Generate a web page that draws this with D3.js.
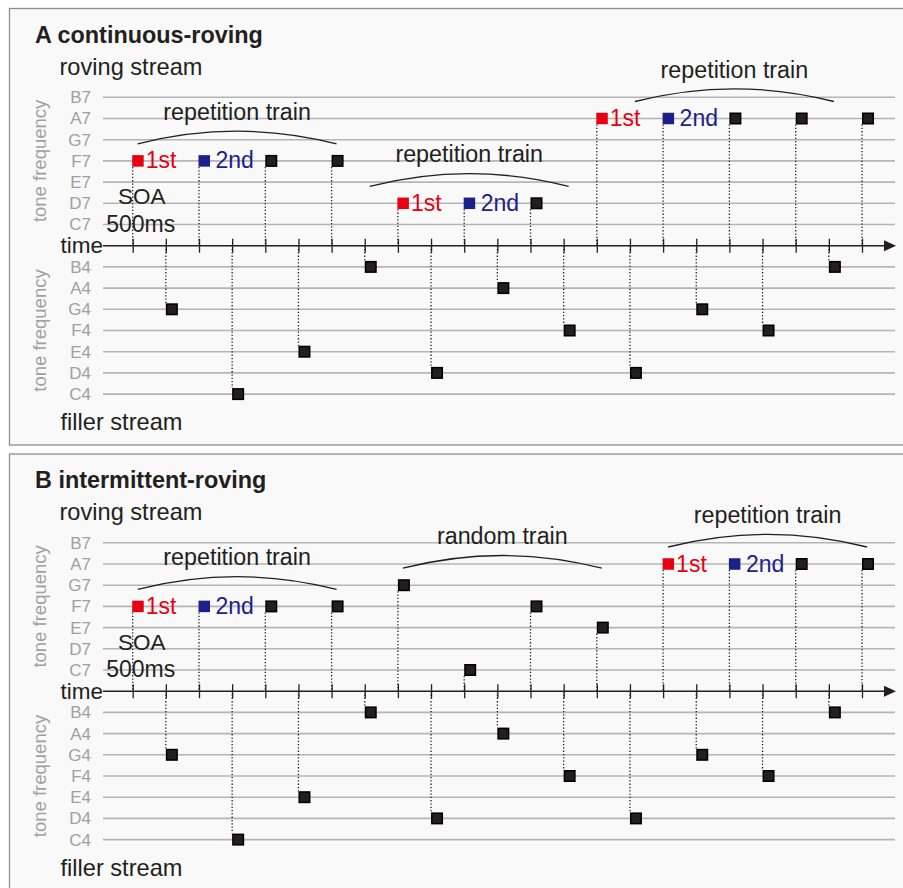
<!DOCTYPE html>
<html>
    <head>
        <meta charset="utf-8">
        <script src="https://cdnjs.cloudflare.com/ajax/libs/d3/7.8.5/d3.min.js"></script>
        <style>
            body {
                margin:0;
                background:#ffffff;
            }
            svg text {
                font-family:"Liberation Sans", Arial, sans-serif;
            }
        </style>
    </head>
    <body>
        <svg id="chart" width="903" height="888"></svg>
        <script>
            // pitch rows, top to bottom
            var rovingNotes = ["B7", "A7", "G7", "F7", "E7", "D7", "C7"];
            var fillerNotes = ["B4", "A4", "G4", "F4", "E4", "D4", "C4"];

            // roving tones sit on even time steps, filler tones on odd steps
            var rovingA = ["F7", "F7", "F7", "F7", "D7", "D7", "D7", "A7", "A7", "A7", "A7", "A7"];
            var roleA   = ["1st", "2nd", "", "", "1st", "2nd", "", "1st", "2nd", "", "", ""];
            var fillerA = ["G4", "C4", "E4", "B4", "D4", "A4", "F4", "D4", "G4", "F4", "B4"];

            var rovingB = ["F7", "F7", "F7", "F7", "G7", "C7", "F7", "E7", "A7", "A7", "A7", "A7"];
            var roleB   = ["1st", "2nd", "", "", "", "", "", "", "1st", "2nd", "", ""];
            var fillerB = ["G4", "C4", "E4", "B4", "D4", "A4", "F4", "D4", "G4", "F4", "B4"];

            var trainsA = [
                {label:"repetition train", from:0, to:6},
                {label:"repetition train", from:8, to:12},
                {label:"repetition train", from:14, to:22}
            ];
            var trainsB = [
                {label:"repetition train", from:0, to:6},
                {label:"random train", from:8, to:14},
                {label:"repetition train", from:16, to:22}
            ];

            var steps = d3.range(23);

            var ink = "#231f20";
            var roleColor = {"1st":"#e60012", "2nd":"#1d2088"};
            var roleDx = {"1st":13, "2nd":16.5};

            var svg = d3.select("#chart");
            var x = d3.scaleLinear().domain([0, 22]).range([132.7, 862]);
            var yR = d3.scalePoint().domain(rovingNotes).range([97.3, 224.5]);
            var yF = d3.scalePoint().domain(fillerNotes).range([266.9, 394.1]);
            var axisY = 245.7;

            function drawPanel(offset, title, roving, role, filler, trains) {
                var g = svg.append("g").attr("transform", "translate(0," + offset + ")");

                g.append("rect")
                    .attr("x", 9.5).attr("y", 8.5)
                    .attr("width", 900).attr("height", 436.5)
                    .attr("fill", "#f9f9f9")
                    .attr("stroke", "#8e8e8e")
                    .attr("stroke-width", 1.3);

                g.append("text").attr("x", 35).attr("y", 42.7)
                    .attr("font-size", 23.4).attr("font-weight", "bold").attr("fill", ink)
                    .text(title);
                g.append("text").attr("x", 59.5).attr("y", 74.5)
                    .attr("font-size", 23.6).attr("fill", ink).text("roving stream");
                g.append("text").attr("x", 60.5).attr("y", 430)
                    .attr("font-size", 23.6).attr("fill", ink).text("filler stream");
                g.append("text").attr("x", 60.5).attr("y", axisY + 7.5)
                    .attr("font-size", 22.5).attr("fill", ink).text("time");

                // grid rows
                [[yR, rovingNotes], [yF, fillerNotes]].forEach(function(p) {
                    var y = p[0];
                    g.append("g").selectAll("line").data(p[1]).enter().append("line")
                        .attr("x1", 103).attr("x2", 895)
                        .attr("y1", function(d){ return y(d); })
                        .attr("y2", function(d){ return y(d); })
                        .attr("stroke", "#b5b5b6").attr("stroke-width", 1.6);

                    var ax = g.append("g").attr("transform", "translate(97,0)")
                        .call(d3.axisLeft(y).tickSize(0).tickPadding(6));
                    ax.select(".domain").remove();
                    ax.selectAll("text")
                        .attr("font-size", 17)
                        .attr("font-family", "Liberation Sans, Arial, sans-serif")
                        .attr("fill", "#a0a0a0");

                    var mid = (y.range()[0] + y.range()[1]) / 2;
                    g.append("text")
                        .attr("transform", "translate(45.5," + mid + ") rotate(-90)")
                        .attr("text-anchor", "middle")
                        .attr("font-size", 18.5).attr("fill", "#a0a0a0")
                        .text("tone frequency");
                });

                // time axis
                var tx = g.append("g").attr("transform", "translate(0," + (axisY - 7) + ")")
                    .call(d3.axisBottom(x).tickValues(steps).tickSize(14).tickFormat(""));
                tx.select(".domain").remove();
                tx.selectAll("line").attr("stroke", ink).attr("stroke-width", 1.3);

                g.append("line").attr("x1", 103).attr("x2", 886)
                    .attr("y1", axisY).attr("y2", axisY)
                    .attr("stroke", ink).attr("stroke-width", 1.5);
                g.append("path")
                    .attr("d", "M884," + (axisY - 5.5) + "L896," + axisY + "L884," + (axisY + 5.5) + "Z")
                    .attr("fill", ink);

                var rTones = roving.map(function(n, i){ return {step:2 * i, note:n, role:role[i]}; });
                var fTones = filler.map(function(n, i){ return {step:2 * i + 1, note:n, role:""}; });

                // dotted drop lines
                g.append("g").selectAll("line").data(rTones).enter().append("line")
                    .attr("x1", function(d){ return x(d.step); })
                    .attr("x2", function(d){ return x(d.step); })
                    .attr("y1", function(d){ return yR(d.note) + 6; })
                    .attr("y2", axisY)
                    .attr("stroke", ink).attr("stroke-width", 1.3)
                    .attr("stroke-dasharray", "1.3,2");
                g.append("g").selectAll("line").data(fTones).enter().append("line")
                    .attr("x1", function(d){ return x(d.step); })
                    .attr("x2", function(d){ return x(d.step); })
                    .attr("y1", axisY)
                    .attr("y2", function(d){ return yF(d.note) - 6; })
                    .attr("stroke", ink).attr("stroke-width", 1.3)
                    .attr("stroke-dasharray", "1.3,2");

                // tone squares
                function squares(data, y) {
                    g.append("g").selectAll("rect").data(data).enter().append("rect")
                        .attr("x", function(d){ return d.role ? x(d.step) - 0.5 : x(d.step) + 0.75; })
                        .attr("y", function(d){ return d.role ? y(d.note) - 5.75 : y(d.note) - 5.25; })
                        .attr("width", function(d){ return d.role ? 11.5 : 10.5; })
                        .attr("height", function(d){ return d.role ? 11.5 : 10.5; })
                        .attr("fill", function(d){ return d.role ? roleColor[d.role] : ink; })
                        .attr("stroke", function(d){ return d.role ? "none" : "#000"; })
                        .attr("stroke-width", 1.5);
                }
                squares(rTones, yR);
                squares(fTones, yF);

                g.append("g").selectAll("text").data(rTones.filter(function(d){ return d.role; }))
                    .enter().append("text")
                    .attr("x", function(d){ return x(d.step) + roleDx[d.role]; })
                    .attr("y", function(d){ return yR(d.note) + 7.5; })
                    .attr("font-size", 23)
                    .attr("fill", function(d){ return roleColor[d.role]; })
                    .text(function(d){ return d.role; });

                // SOA note under the first tone
                g.append("text").attr("x", x(0) + 9).attr("y", 204)
                    .attr("text-anchor", "middle").attr("font-size", 22.5).attr("fill", ink)
                    .text("SOA");
                g.append("text").attr("x", x(0) - 26.5).attr("y", 231.5)
                    .attr("font-size", 23).attr("fill", ink)
                    .text("500ms");

                // train brackets
                var half = x(3) - x(0);
                trains.forEach(function(t) {
                    var cx = x((t.from + t.to) / 2) + 5;
                    var top = d3.min(rTones.filter(function(d){ return d.step >= t.from && d.step <= t.to; }),
                        function(d){ return yR(d.note); });
                    var yEnd = top - 17;
                    var sag = 12.5;
                    var r = (half * half + sag * sag) / (2 * sag);
                    g.append("path")
                        .attr("d", "M" + (cx - half) + "," + yEnd + "A" + r + "," + r + " 0 0 1 " + (cx + half) + "," + yEnd)
                        .attr("fill", "none").attr("stroke", ink).attr("stroke-width", 1.3);
                    g.append("text").attr("x", cx).attr("y", top - 41)
                        .attr("text-anchor", "middle").attr("font-size", 23.3).attr("fill", ink)
                        .text(t.label);
                });
            }

            drawPanel(0, "A continuous-roving", rovingA, roleA, fillerA, trainsA);
            drawPanel(445.5, "B intermittent-roving", rovingB, roleB, fillerB, trainsB);
        </script>
    </body>
</html>
